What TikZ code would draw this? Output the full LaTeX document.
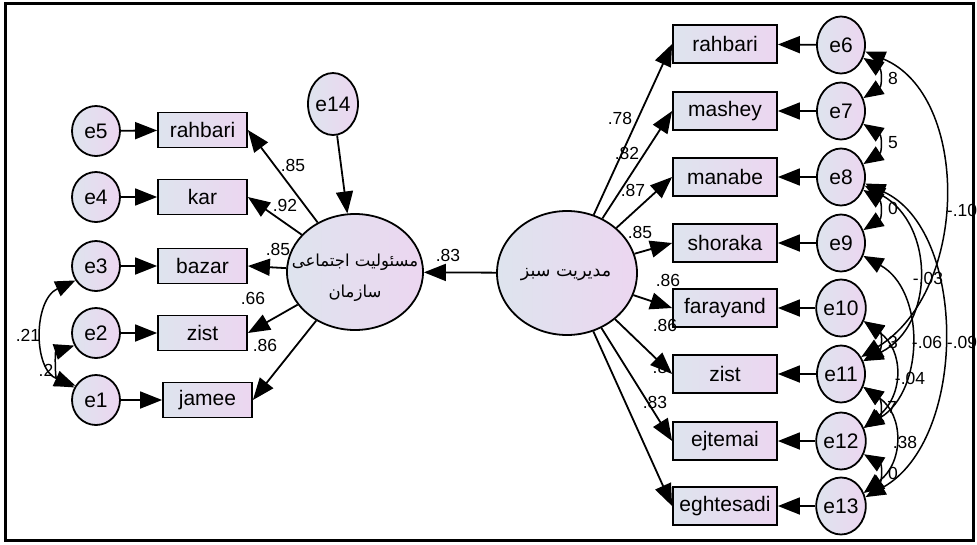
\documentclass[tikz,border=0pt]{standalone}
\usepackage{fontspec}
\setmainfont{Liberation Sans}
\newfontfamily\fa[Script=Arabic]{DejaVu Sans}
\TeXXeTstate=1
\usetikzlibrary{shapes.geometric,arrows.meta}
\definecolor{gA}{RGB}{222,228,238}
\definecolor{gB}{RGB}{236,214,240}

\begin{document}
\begin{tikzpicture}[x=1pt,y=-1pt,
  shadeit/.style={left color=gA,right color=gB},
  errnode/.style={ellipse,draw,line width=1.8pt,inner sep=0pt,shadeit,font=\fontsize{21}{21}\selectfont},
  errL/.style={errnode,minimum width=48pt,minimum height=50pt},
  errR/.style={errnode,minimum width=48pt,minimum height=57pt},
  obsL/.style={rectangle,draw,line width=1.8pt,inner sep=0pt,shadeit,minimum width=89pt,minimum height=35pt,font=\fontsize{21}{21}\selectfont},
  obsR/.style={obsL,minimum width=104pt,minimum height=38pt},
  latent/.style={ellipse,draw,line width=1.8pt,inner sep=0pt,shadeit},
  latxt/.style={inner sep=0pt,align=center},
  num/.style={font=\fontsize{17.5}{17.5}\selectfont,inner sep=0pt},
  load/.style={line width=1.8pt,-{Triangle[length=22pt,width=17pt]}},
  cov/.style={line width=1.5pt,{Triangle[length=20pt,width=16pt]}-{Triangle[length=20pt,width=16pt]}},
]
% canvas and frame
\useasboundingbox (0,0) rectangle (977,544);
\fill[white] (0,0) rectangle (977,544);
\draw[line width=3pt] (5.5,3.5) rectangle (973.5,540.5);

% ---- left block: indicators of the social responsibility factor
\node[errL] (e5) at (96,131) {e5};
\node[errL] (e4) at (96,197) {e4};
\node[errL] (e3) at (96,266) {e3};
\node[errL] (e2) at (96,333) {e2};
\node[errL] (e1) at (96,400) {e1};
\node[obsL] (lrah) at (202.5,130) {rahbari};
\node[obsL] (lkar) at (202.5,197) {kar};
\node[obsL] (lbaz) at (202.5,266) {bazar};
\node[obsL] (lzis) at (202.5,333) {zist};
\node[obsL] (ljam) at (207.5,400) {jamee};
\node[errnode,minimum width=50pt,minimum height=62pt] (e14) at (333,104) {e14};
\node[latent,minimum width=136pt,minimum height=116pt] (csr) at (355,272) {};
\node[latxt,font=\fa\fontsize{16.5}{31}\selectfont] (csrtxt) at (355,278)
  {\beginR مسئولیت اجتماعی\endR\\\beginR سازمان\endR};

% ---- right block: indicators of the green management factor
\node[latent,minimum width=140pt,minimum height=124pt] (gm) at (567,273) {};
\node[latxt,font=\fa\fontsize{17.5}{24}\selectfont] (gmtxt) at (566,275)
  {\beginR مدیریت سبز\endR};
\node[obsR] (rrah) at (725,44) {rahbari};
\node[obsR] (rmas) at (725,111) {mashey};
\node[obsR] (rman) at (725,177) {manabe};
\node[obsR] (rsho) at (725,243) {shoraka};
\node[obsR] (rfar) at (725,308) {farayand};
\node[obsR] (rzis) at (725,374) {zist};
\node[obsR] (rejt) at (725,441) {ejtemai};
\node[obsR] (regh) at (725,506) {eghtesadi};
\node[errR] (e6) at (841,45) {e6};
\node[errR] (e7) at (841,111) {e7};
\node[errR] (e8) at (841,177) {e8};
\node[errR] (e9) at (841,243) {e9};
\node[errR] (e10) at (841,308) {e10};
\node[errR] (e11) at (841,374) {e11};
\node[errR] (e12) at (841,441) {e12};
\node[errR] (e13) at (841,506) {e13};

% ---- estimates
\node[num] (wl1) at (293,165) {.85};
\node[num] (wl2) at (285,205) {.92};
\node[num] (wl3) at (278,249) {.85};
\node[num] (wl4) at (253,298) {.66};
\node[num] (wl5) at (265,345) {.86};
\node[num] (wgc) at (448,255) {.83};
\node[num] (wr1) at (620,118) {.78};
\node[num] (wr2) at (627,153) {.82};
\node[num] (wr3) at (633,190) {.87};
\node[num] (wr4) at (640,232) {.85};
\node[num] (wr5) at (668,280) {.86};
\node[num] (wr6) at (665,325) {.86};
\node[num] (wr7) at (660,367) {.8};
\node[num] (wr8) at (655,402) {.83};
\node[num] (cl1) at (28,335) {.21};
\node[num] (cl2) at (46,370) {.2};
\node[num] (cr1) at (893,78) {8};
\node[num] (cr2) at (893,143) {5};
\node[num] (cr3) at (893,208) {0};
\node[num] (cr4) at (893,342) {3};
\node[num] (cr5) at (892,407) {7};
\node[num] (cr6) at (893,473) {0};
\node[num] (cr7) at (962,210) {-.10};
\node[num] (cr8) at (928,278) {-.03};
\node[num] (cr9) at (927,342) {-.06};
\node[num] (cr10) at (962,342) {-.09};
\node[num] (cr11) at (910,378) {-.04};
\node[num] (cr12) at (905,442) {.38};

% ---- regression paths
\foreach \e/\b in {e5/lrah,e4/lkar,e3/lbaz,e2/lzis,e1/ljam}
  \draw[load] (\e) -- (\b);
\foreach \b in {lrah,lkar,lbaz,lzis,ljam}
  \draw[load] (csr) -- (\b.east);
\draw[load] (e14) -- (csr);
\draw[load] (gm) -- (csr);
\foreach \b in {rrah,rmas,rman,rsho,rfar,rzis,rejt,regh}
  \draw[load] (gm) -- (\b.west);
\foreach \e/\b in {e6/rrah,e7/rmas,e8/rman,e9/rsho,e10/rfar,e11/rzis,e12/rejt,e13/regh}
  \draw[load] (\e) -- (\b);

% ---- covariances, left
\draw[cov] (e3.215) .. controls (33,300) and (33,370) .. (e1.145);
\draw[cov] (e2.210) .. controls (55,352) and (55,378) .. (e1.150);

% ---- covariances, right
\draw[cov] (e6.330) .. controls (882,70) and (882,86) .. (e7.30);
\draw[cov] (e7.330) .. controls (882,136) and (882,152) .. (e8.30);
\draw[cov] (e8.330) .. controls (882,202) and (882,218) .. (e9.30);
\draw[cov] (e10.330) .. controls (882,333) and (882,349) .. (e11.30);
\draw[cov] (e11.330) .. controls (882,400) and (882,416) .. (e12.30);
\draw[cov] (e12.330) .. controls (882,465) and (882,481) .. (e13.30);
\draw[cov] (e6.345) .. controls (970,95) and (970,290) .. (e11.40);
\draw[cov] (e8.340) .. controls (935,225) and (935,325) .. (e11.30);
\draw[cov] (e8.345) .. controls (968,230) and (968,440) .. (e13.20);
\draw[cov] (e9.330) .. controls (925,290) and (925,390) .. (e12.30);
\draw[cov] (e10.330) .. controls (904,350) and (904,395) .. (e12.30);
\draw[cov] (e11.330) .. controls (904,415) and (904,462) .. (e13.30);
\end{tikzpicture}
\end{document}
